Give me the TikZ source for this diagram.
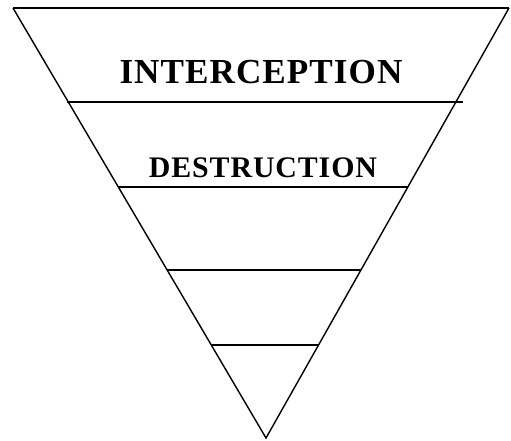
\documentclass[tikz,border=0pt]{standalone}
\usepackage{fontspec}
\setmainfont{Liberation Serif}
\newfontfamily\bandfont[LetterSpace=3]{Liberation Serif}
\usetikzlibrary{calc}

\begin{document}
\begin{tikzpicture}[x=0.02cm,y=-0.02cm,
 band/.style={line width=0.9pt},
 edge/.style={line width=0.8pt},
 lbl/.style={anchor=base,inner sep=0pt,font=\bandfont\bfseries}]
\useasboundingbox (0,0) rectangle (511,440);
% corners of the funnel
\coordinate (tl) at (13,8);
\coordinate (tr) at (509,8);
\coordinate (apex) at (266,438);
\draw[edge,line width=1.1pt] (tl)--(tr);
\draw[edge] (tl)--(apex)--(tr);
% band lines, y positions taken as fractions of the height
\foreach \n/\f in {b/0.2186,c/0.4163,d/0.6093,e/0.7837}{
 \coordinate (\n l) at ($(tl)!\f!(apex)$);
 \coordinate (\n r) at ($(tr)!\f!(apex)$);
}
\draw[line width=1.7pt] ($(bl)+(-1,0)$)--($(br)+(7,0)$);
\foreach \n in {c,d,e}{\draw[band] (\n l)--(\n r);}
\node[lbl,font=\bandfont\bfseries\fontsize{20}{24}\selectfont] (intercept) at (261,83) {INTERCEPTION};
\node[lbl,font=\bandfont\bfseries\fontsize{17}{20}\selectfont] (destruct) at (263,177) {DESTRUCTION};
\end{tikzpicture}
\end{document}
